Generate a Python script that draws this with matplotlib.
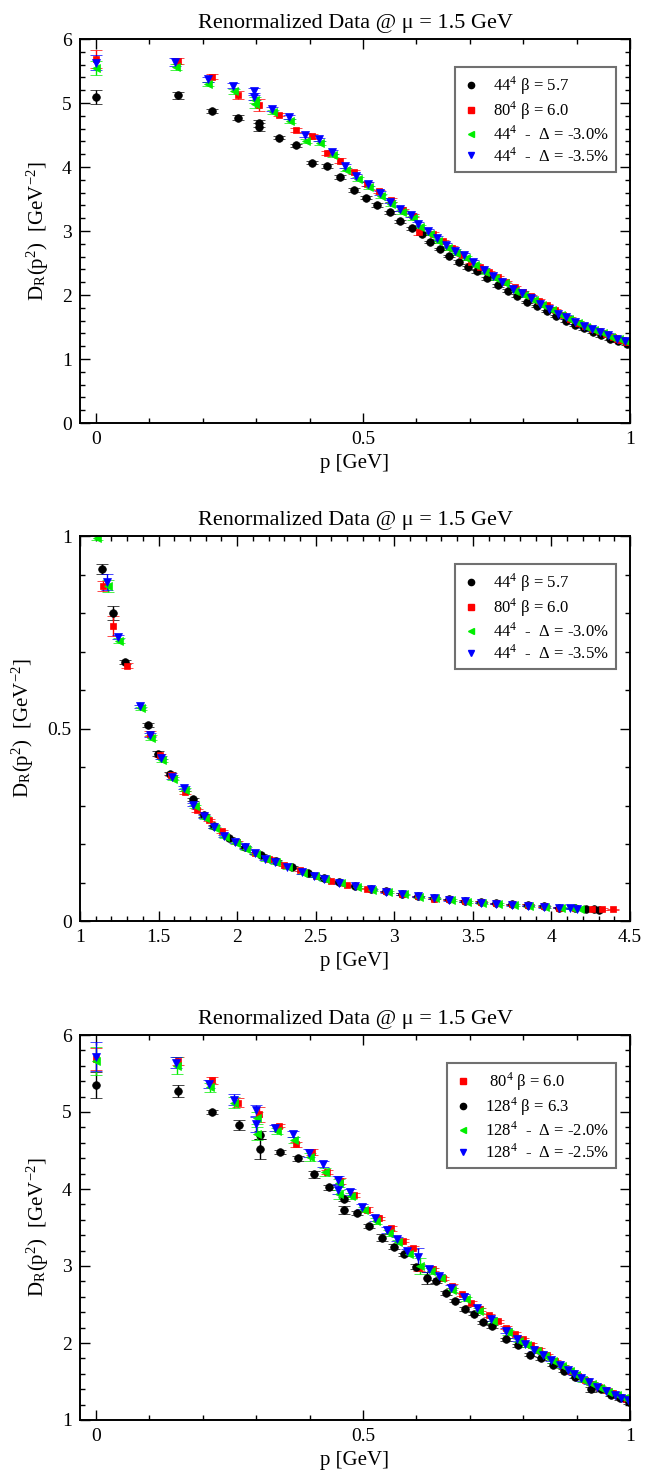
import matplotlib
matplotlib.use("Agg")
import matplotlib.pyplot as plt
import numpy as np
from matplotlib.lines import Line2D
from matplotlib.ticker import MultipleLocator, FuncFormatter

plt.rcParams["font.family"] = ["Liberation Serif", "DejaVu Serif"]
plt.rcParams["mathtext.fontset"] = "stix"

# ---- panel 1 : 44^4 and 80^4, p < 1 GeV  (x, y, err) ----
k44 = [(0.000, 5.10, 0.11), (0.153, 5.12, 0.05), (0.217, 4.87, 0.03), (0.266, 4.77, 0.04),
       (0.306, 4.68, 0.05), (0.306, 4.62, 0.06), (0.342, 4.46, 0.02), (0.375, 4.34, 0.02),
       (0.405, 4.07, 0.03), (0.432, 4.01, 0.03), (0.457, 3.85, 0.03), (0.483, 3.64, 0.03),
       (0.505, 3.52, 0.02), (0.527, 3.40, 0.03), (0.550, 3.29, 0.03), (0.570, 3.15, 0.02),
       (0.591, 3.04, 0.02), (0.611, 2.96, 0.03), (0.625, 2.83, 0.02), (0.644, 2.72, 0.02),
       (0.661, 2.61, 0.02), (0.679, 2.51, 0.03), (0.696, 2.43, 0.02), (0.714, 2.37, 0.02),
       (0.732, 2.26, 0.02), (0.752, 2.15, 0.02), (0.771, 2.07, 0.02), (0.789, 1.99, 0.02),
       (0.808, 1.89, 0.02), (0.826, 1.83, 0.02), (0.845, 1.75, 0.02), (0.862, 1.67, 0.02),
       (0.880, 1.60, 0.02), (0.897, 1.53, 0.02), (0.913, 1.48, 0.02), (0.930, 1.42, 0.02),
       (0.946, 1.37, 0.02), (0.962, 1.32, 0.02), (0.978, 1.28, 0.02), (0.994, 1.24, 0.02),
       (1.010, 1.20, 0.02)]

r80 = [(0.000, 5.69, 0.14), (0.153, 5.66, 0.05), (0.217, 5.41, 0.04), (0.266, 5.12, 0.06),
       (0.306, 4.97, 0.10), (0.342, 4.82, 0.02), (0.375, 4.58, 0.03), (0.405, 4.48, 0.04),
       (0.432, 4.22, 0.03), (0.457, 4.10, 0.04), (0.483, 3.92, 0.03), (0.508, 3.73, 0.03),
       (0.530, 3.62, 0.02), (0.552, 3.49, 0.03), (0.574, 3.33, 0.02), (0.594, 3.24, 0.02),
       (0.605, 2.98, 0.05), (0.631, 2.96, 0.02), (0.650, 2.84, 0.02), (0.667, 2.74, 0.02),
       (0.685, 2.63, 0.02), (0.702, 2.52, 0.02), (0.719, 2.44, 0.02), (0.736, 2.36, 0.02),
       (0.752, 2.28, 0.02), (0.768, 2.20, 0.02), (0.784, 2.12, 0.02), (0.800, 2.05, 0.02),
       (0.815, 1.98, 0.02), (0.830, 1.91, 0.02), (0.845, 1.84, 0.02), (0.860, 1.76, 0.02),
       (0.874, 1.69, 0.02), (0.888, 1.63, 0.02), (0.902, 1.57, 0.02), (0.916, 1.52, 0.02),
       (0.929, 1.47, 0.02), (0.942, 1.43, 0.02), (0.955, 1.39, 0.02), (0.968, 1.35, 0.02),
       (0.975, 1.32, 0.02), (0.981, 1.30, 0.02), (0.987, 1.29, 0.02), (0.993, 1.27, 0.02),
       (0.998, 1.26, 0.02)]

g44_30 = [(0.000, 5.55, 0.11), (0.149, 5.56, 0.05), (0.210, 5.30, 0.03), (0.258, 5.18, 0.04),
          (0.297, 5.05, 0.05), (0.297, 4.98, 0.06), (0.332, 4.86, 0.03), (0.364, 4.72, 0.03),
          (0.393, 4.41, 0.03), (0.419, 4.37, 0.03), (0.443, 4.18, 0.03), (0.469, 3.96, 0.03),
          (0.490, 3.81, 0.03), (0.511, 3.68, 0.03), (0.534, 3.55, 0.03), (0.553, 3.42, 0.03),
          (0.573, 3.30, 0.03), (0.593, 3.20, 0.03), (0.606, 3.07, 0.03), (0.625, 2.96, 0.03),
          (0.641, 2.85, 0.03), (0.659, 2.74, 0.03), (0.675, 2.65, 0.03), (0.693, 2.58, 0.03),
          (0.710, 2.47, 0.03), (0.729, 2.36, 0.03), (0.748, 2.26, 0.03), (0.765, 2.18, 0.03),
          (0.784, 2.07, 0.03), (0.801, 2.00, 0.03), (0.820, 1.92, 0.03), (0.836, 1.84, 0.03),
          (0.854, 1.76, 0.03), (0.870, 1.69, 0.03), (0.886, 1.63, 0.03), (0.902, 1.56, 0.03),
          (0.918, 1.50, 0.03), (0.933, 1.45, 0.03), (0.949, 1.40, 0.03), (0.964, 1.35, 0.03),
          (0.980, 1.31, 0.03), (0.995, 1.27, 0.03)]

b44_35 = [(0.000, 5.63, 0.12), (0.148, 5.64, 0.06), (0.209, 5.37, 0.04), (0.257, 5.27, 0.04),
          (0.295, 5.18, 0.05), (0.295, 5.10, 0.06), (0.330, 4.91, 0.03), (0.362, 4.78, 0.03),
          (0.391, 4.50, 0.03), (0.417, 4.43, 0.03), (0.441, 4.24, 0.03), (0.466, 4.01, 0.03),
          (0.487, 3.86, 0.03), (0.509, 3.73, 0.03), (0.531, 3.60, 0.03), (0.550, 3.46, 0.03),
          (0.570, 3.35, 0.03), (0.590, 3.25, 0.03), (0.603, 3.11, 0.03), (0.621, 3.00, 0.03),
          (0.638, 2.89, 0.03), (0.655, 2.78, 0.03), (0.672, 2.69, 0.03), (0.689, 2.62, 0.03),
          (0.706, 2.51, 0.03), (0.726, 2.39, 0.03), (0.744, 2.29, 0.03), (0.761, 2.21, 0.03),
          (0.780, 2.10, 0.03), (0.797, 2.03, 0.03), (0.815, 1.95, 0.03), (0.832, 1.86, 0.03),
          (0.849, 1.78, 0.03), (0.866, 1.71, 0.03), (0.881, 1.65, 0.03), (0.897, 1.58, 0.03),
          (0.913, 1.52, 0.03), (0.928, 1.47, 0.03), (0.944, 1.42, 0.03), (0.959, 1.37, 0.03),
          (0.975, 1.32, 0.03), (0.990, 1.28, 0.03)]

# ---- panel 2 : p > 1 GeV ----
k44_hi = [(1.142, 0.914, 0.012), (1.208, 0.800, 0.018), (1.289, 0.673, 0.006), (1.431, 0.509, 0.005),
          (1.499, 0.435, 0.006), (1.573, 0.383, 0.004), (1.718, 0.316, 0.004), (1.786, 0.275, 0.004),
          (1.854, 0.246, 0.004), (1.950, 0.215, 0.003), (2.050, 0.192, 0.003), (2.150, 0.172, 0.003),
          (2.250, 0.155, 0.003), (2.350, 0.140, 0.003), (2.450, 0.124, 0.003), (2.550, 0.112, 0.003),
          (2.650, 0.101, 0.003), (2.750, 0.092, 0.002), (2.850, 0.083, 0.002), (2.950, 0.077, 0.002),
          (3.050, 0.070, 0.002), (3.150, 0.064, 0.002), (3.250, 0.060, 0.002), (3.350, 0.056, 0.002),
          (3.450, 0.052, 0.002), (3.550, 0.049, 0.002), (3.650, 0.046, 0.002), (3.750, 0.043, 0.002),
          (3.850, 0.041, 0.002), (3.950, 0.039, 0.002), (4.050, 0.035, 0.002), (4.150, 0.033, 0.002),
          (4.220, 0.031, 0.002), (4.270, 0.030, 0.002), (4.300, 0.029, 0.002)]

r80_hi = [(1.148, 0.870, 0.012), (1.212, 0.766, 0.025), (1.297, 0.663, 0.006), (1.446, 0.487, 0.006),
          (1.510, 0.431, 0.004), (1.580, 0.380, 0.004), (1.669, 0.334, 0.004), (1.743, 0.288, 0.004),
          (1.820, 0.262, 0.003), (1.902, 0.233, 0.004), (2.000, 0.204, 0.003), (2.114, 0.177, 0.003),
          (2.200, 0.162, 0.003), (2.300, 0.146, 0.003), (2.397, 0.132, 0.003), (2.500, 0.116, 0.003),
          (2.600, 0.104, 0.003), (2.700, 0.094, 0.002), (2.825, 0.084, 0.002), (2.950, 0.077, 0.002),
          (3.050, 0.070, 0.002), (3.150, 0.064, 0.002), (3.251, 0.058, 0.002), (3.350, 0.056, 0.002),
          (3.450, 0.052, 0.002), (3.550, 0.049, 0.002), (3.650, 0.046, 0.002), (3.750, 0.043, 0.002),
          (3.850, 0.041, 0.002), (3.950, 0.038, 0.002), (4.050, 0.035, 0.002), (4.150, 0.033, 0.002),
          (4.260, 0.031, 0.002), (4.320, 0.031, 0.002), (4.390, 0.030, 0.002)]

g44_30_hi = [(1.106, 0.996, 0.006), (1.176, 0.870, 0.015), (1.250, 0.728, 0.006), (1.388, 0.552, 0.005),
             (1.452, 0.476, 0.006), (1.522, 0.418, 0.004), (1.590, 0.370, 0.004), (1.666, 0.341, 0.004),
             (1.729, 0.298, 0.004), (1.793, 0.268, 0.004), (1.857, 0.242, 0.003), (1.925, 0.218, 0.003),
             (1.995, 0.203, 0.003), (2.058, 0.188, 0.003), (2.122, 0.174, 0.003), (2.185, 0.160, 0.003),
             (2.250, 0.152, 0.003), (2.324, 0.139, 0.003), (2.420, 0.124, 0.003), (2.494, 0.116, 0.003),
             (2.558, 0.108, 0.003), (2.660, 0.098, 0.002), (2.760, 0.089, 0.002), (2.860, 0.081, 0.002),
             (2.960, 0.075, 0.002), (3.060, 0.069, 0.002), (3.160, 0.063, 0.002), (3.260, 0.059, 0.002),
             (3.360, 0.054, 0.002), (3.460, 0.050, 0.002), (3.560, 0.047, 0.002), (3.660, 0.044, 0.002),
             (3.760, 0.041, 0.002), (3.860, 0.039, 0.002), (3.960, 0.037, 0.002), (4.060, 0.035, 0.002),
             (4.130, 0.033, 0.002), (4.180, 0.032, 0.002)]

b44_35_hi = [(1.170, 0.881, 0.020), (1.244, 0.738, 0.006), (1.382, 0.558, 0.004), (1.446, 0.483, 0.005),
             (1.516, 0.424, 0.004), (1.584, 0.374, 0.004), (1.659, 0.346, 0.004), (1.722, 0.302, 0.004),
             (1.786, 0.272, 0.004), (1.850, 0.245, 0.003), (1.918, 0.220, 0.003), (1.988, 0.206, 0.003),
             (2.051, 0.191, 0.003), (2.115, 0.176, 0.003), (2.178, 0.162, 0.003), (2.242, 0.154, 0.003),
             (2.316, 0.141, 0.003), (2.412, 0.126, 0.003), (2.486, 0.118, 0.003), (2.550, 0.109, 0.003),
             (2.650, 0.099, 0.002), (2.750, 0.090, 0.002), (2.850, 0.082, 0.002), (2.950, 0.076, 0.002),
             (3.050, 0.070, 0.002), (3.150, 0.064, 0.002), (3.250, 0.060, 0.002), (3.350, 0.055, 0.002),
             (3.450, 0.051, 0.002), (3.550, 0.048, 0.002), (3.650, 0.045, 0.002), (3.750, 0.042, 0.002),
             (3.850, 0.040, 0.002), (3.950, 0.037, 0.002), (4.050, 0.035, 0.002), (4.120, 0.033, 0.002),
             (4.160, 0.032, 0.002)]

# ---- panel 3 : 128^4 ----
k128 = [(0.000, 5.35, 0.17), (0.154, 5.27, 0.08), (0.218, 5.00, 0.03), (0.267, 4.83, 0.06),
        (0.308, 4.70, 0.05), (0.308, 4.52, 0.13), (0.345, 4.48, 0.03), (0.378, 4.40, 0.03),
        (0.409, 4.19, 0.05), (0.437, 4.02, 0.03), (0.464, 3.87, 0.03), (0.464, 3.73, 0.05),
        (0.489, 3.69, 0.03), (0.511, 3.52, 0.02), (0.536, 3.37, 0.04), (0.558, 3.25, 0.03),
        (0.577, 3.15, 0.02), (0.599, 2.99, 0.03), (0.619, 2.84, 0.08), (0.637, 2.80, 0.02),
        (0.655, 2.65, 0.03), (0.673, 2.55, 0.02), (0.691, 2.44, 0.03), (0.708, 2.38, 0.02),
        (0.724, 2.27, 0.02), (0.741, 2.22, 0.02), (0.768, 2.05, 0.02), (0.790, 1.97, 0.02),
        (0.812, 1.85, 0.02), (0.833, 1.80, 0.02), (0.855, 1.72, 0.02), (0.876, 1.64, 0.02),
        (0.897, 1.56, 0.02), (0.927, 1.40, 0.03), (0.945, 1.40, 0.02), (0.965, 1.33, 0.02),
        (0.982, 1.28, 0.02), (0.999, 1.23, 0.02)]

g128_20 = [(0.000, 5.66, 0.18), (0.151, 5.60, 0.11), (0.213, 5.32, 0.06), (0.259, 5.12, 0.07),
           (0.301, 4.92, 0.08), (0.301, 4.72, 0.09), (0.338, 4.75, 0.04), (0.371, 4.64, 0.04),
           (0.400, 4.42, 0.05), (0.428, 4.22, 0.05), (0.455, 4.08, 0.05), (0.455, 3.93, 0.06),
           (0.477, 3.91, 0.04), (0.501, 3.73, 0.03), (0.525, 3.58, 0.04), (0.548, 3.43, 0.04),
           (0.566, 3.31, 0.03), (0.586, 3.16, 0.03), (0.606, 3.00, 0.10), (0.627, 2.93, 0.04),
           (0.646, 2.84, 0.03), (0.667, 2.69, 0.03), (0.692, 2.57, 0.03), (0.718, 2.42, 0.03),
           (0.743, 2.29, 0.03), (0.771, 2.14, 0.03), (0.793, 2.03, 0.02), (0.807, 1.97, 0.02),
           (0.825, 1.89, 0.02), (0.841, 1.83, 0.02), (0.856, 1.76, 0.02), (0.872, 1.70, 0.02),
           (0.887, 1.63, 0.02), (0.899, 1.58, 0.02), (0.912, 1.52, 0.03), (0.928, 1.47, 0.02),
           (0.943, 1.42, 0.02), (0.959, 1.37, 0.02), (0.975, 1.32, 0.02), (0.988, 1.28, 0.02),
           (1.000, 1.25, 0.02)]

b128_25 = [(0.000, 5.72, 0.19), (0.150, 5.64, 0.07), (0.212, 5.36, 0.05), (0.258, 5.16, 0.07),
           (0.300, 5.02, 0.07), (0.300, 4.84, 0.10), (0.336, 4.79, 0.04), (0.369, 4.71, 0.04),
           (0.398, 4.47, 0.05), (0.426, 4.32, 0.04), (0.453, 4.12, 0.05), (0.453, 3.99, 0.06),
           (0.475, 3.96, 0.04), (0.498, 3.77, 0.03), (0.522, 3.62, 0.04), (0.545, 3.47, 0.04),
           (0.563, 3.35, 0.03), (0.583, 3.19, 0.03), (0.603, 3.12, 0.12), (0.624, 2.96, 0.04),
           (0.643, 2.87, 0.03), (0.664, 2.72, 0.03), (0.689, 2.60, 0.03), (0.714, 2.45, 0.03),
           (0.739, 2.31, 0.03), (0.767, 2.16, 0.03), (0.789, 2.05, 0.02), (0.803, 1.99, 0.02),
           (0.821, 1.91, 0.02), (0.837, 1.84, 0.02), (0.852, 1.78, 0.02), (0.868, 1.71, 0.02),
           (0.883, 1.65, 0.02), (0.895, 1.60, 0.02), (0.908, 1.54, 0.03), (0.924, 1.49, 0.02),
           (0.939, 1.43, 0.02), (0.955, 1.38, 0.02), (0.971, 1.33, 0.02), (0.984, 1.29, 0.02),
           (0.996, 1.26, 0.02)]

TITLE = "Renormalized Data @ μ = 1.5 GeV"
YLABEL = r"D$_\mathregular{R}$(p$^\mathregular{2}$)  [GeV$^\mathregular{-2}$]"
XLABEL = "p [GeV]"

STY = {
    "k": dict(color="black", marker="o", ms=5.5),
    "r": dict(color="red", marker="s", ms=5.0),
    "g": dict(color="#00ee00", marker="<", ms=5.5),
    "b": dict(color="blue", marker="v", ms=5.5),
}

FIG_W, FIG_H = 662, 1478


def draw(ax, rows, key):
    x, y, e = np.array(rows).T
    s = STY[key]
    ax.errorbar(x, y, yerr=e, fmt=s["marker"], color=s["color"], ms=s["ms"],
                mec=s["color"], mew=0.5, elinewidth=1.0, capsize=4.0, capthick=1.0)


def style(ax, xlim, ylim, xmaj, xmin, ymaj, ymin):
    ax.set_xlim(*xlim)
    ax.set_ylim(*ylim)
    ax.xaxis.set_major_locator(MultipleLocator(xmaj))
    ax.xaxis.set_minor_locator(MultipleLocator(xmin))
    ax.yaxis.set_major_locator(MultipleLocator(ymaj))
    ax.yaxis.set_minor_locator(MultipleLocator(ymin))
    fmt = FuncFormatter(lambda v, p: f"{v:g}")
    ax.xaxis.set_major_formatter(fmt)
    ax.yaxis.set_major_formatter(fmt)
    ax.tick_params(which="both", direction="in", top=True, right=True, labelsize=14, width=1.0)
    ax.tick_params(which="major", length=7.5, pad=6)
    ax.tick_params(which="minor", length=3.8)
    for sp in ax.spines.values():
        sp.set_linewidth(1.4)
    ax.set_title(TITLE, fontsize=16, pad=8)
    ax.set_xlabel(XLABEL, fontsize=15, labelpad=4)
    ax.set_ylabel(YLABEL, fontsize=15, labelpad=8)


def legend(ax, entries):
    handles = []
    for key, label in entries:
        s = STY[key]
        handles.append(Line2D([], [], ls="none", marker=s["marker"], color=s["color"],
                              ms=s["ms"] - 1.0, label=label))
    leg = ax.legend(handles=handles, loc="upper right", bbox_to_anchor=(0.975, 0.927),
                    borderaxespad=0, fontsize=12, frameon=True, fancybox=False,
                    handlelength=1.1, handletextpad=0.8, labelspacing=0.17, borderpad=0.42)
    fr = leg.get_frame()
    fr.set_edgecolor("#707070")
    fr.set_linewidth(1.5)
    fr.set_alpha(1.0)


fig = plt.figure(figsize=(FIG_W / 100, FIG_H / 100), dpi=100)

ax1 = fig.add_axes([80 / FIG_W, 1 - 423 / FIG_H, 550 / FIG_W, 384 / FIG_H])
draw(ax1, k44, "k")
draw(ax1, r80, "r")
draw(ax1, g44_30, "g")
draw(ax1, b44_35, "b")
style(ax1, (-0.03, 1.0), (0, 6), 0.5, 0.1, 1, 0.2)
legend(ax1, [("k", r"44$^\mathregular{4}$ β = 5.7"), ("r", r"80$^\mathregular{4}$ β = 6.0"),
             ("g", r"44$^\mathregular{4}$  -  Δ = -3.0%"), ("b", r"44$^\mathregular{4}$  -  Δ = -3.5%")])

ax2 = fig.add_axes([80 / FIG_W, 1 - 921 / FIG_H, 550 / FIG_W, 385 / FIG_H])
draw(ax2, k44_hi, "k")
draw(ax2, r80_hi, "r")
draw(ax2, g44_30_hi, "g")
draw(ax2, b44_35_hi, "b")
style(ax2, (1.0, 4.5), (0, 1), 0.5, 0.1, 0.5, 0.1)
legend(ax2, [("k", r"44$^\mathregular{4}$ β = 5.7"), ("r", r"80$^\mathregular{4}$ β = 6.0"),
             ("g", r"44$^\mathregular{4}$  -  Δ = -3.0%"), ("b", r"44$^\mathregular{4}$  -  Δ = -3.5%")])

ax3 = fig.add_axes([80 / FIG_W, 1 - 1420 / FIG_H, 550 / FIG_W, 385 / FIG_H])
draw(ax3, r80, "r")
draw(ax3, k128, "k")
draw(ax3, g128_20, "g")
draw(ax3, b128_25, "b")
style(ax3, (-0.03, 1.0), (1, 6), 0.5, 0.1, 1, 0.2)
legend(ax3, [("r", r" 80$^\mathregular{4}$ β = 6.0"), ("k", r"128$^\mathregular{4}$ β = 6.3"),
             ("g", r"128$^\mathregular{4}$  -  Δ = -2.0%"), ("b", r"128$^\mathregular{4}$  -  Δ = -2.5%")])

fig.savefig("out.png", dpi=100)
